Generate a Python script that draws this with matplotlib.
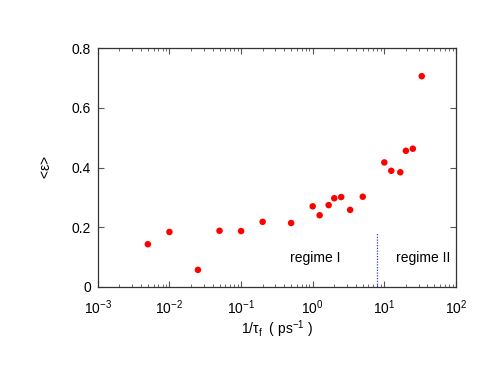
import numpy as np
import matplotlib.pyplot as plt
from matplotlib.ticker import LogLocator, NullFormatter

plt.rcParams['font.family'] = ['Liberation Sans', 'DejaVu Sans']
plt.rcParams['mathtext.fontset'] = 'custom'
plt.rcParams['mathtext.rm'] = 'Liberation Sans'
plt.rcParams['mathtext.it'] = 'Liberation Sans'

inv_tau = [0.005, 0.01, 0.025, 0.05, 0.1, 0.2, 0.5, 1.0, 1.25, 1.67, 2.0, 2.5,
           3.33, 5.0, 10.0, 12.5, 16.7, 20.0, 25.0, 33.3]
eps_mean = [0.143, 0.184, 0.057, 0.188, 0.187, 0.218, 0.214, 0.270, 0.240, 0.274,
            0.297, 0.301, 0.258, 0.302, 0.417, 0.389, 0.384, 0.456, 0.463, 0.706]
y_ticks = [0, 0.2, 0.4, 0.6, 0.8]
y_ticklabels = ['0', '0.2', '0.4', '0.6', '0.8']
boundary_x = 7.8
boundary_top = 0.18

fig = plt.figure(figsize=(4.94, 3.82), dpi=100)
ax = fig.add_axes([0.198, 0.249, 0.725, 0.625])

ax.scatter(inv_tau, eps_mean, s=22, color='#ff0000', edgecolors='none', zorder=3)
ax.plot([boundary_x, boundary_x], [0, boundary_top], color='#3333ff', lw=0.9,
        linestyle=(0, (1, 1.2)))

ax.text(1.1, 0.097, 'regime I', ha='center', va='center', fontsize=10)
ax.text(35, 0.097, 'regime II', ha='center', va='center', fontsize=10)

ax.set_xscale('log')
ax.set_xlim(1e-3, 1e2)
ax.set_ylim(0, 0.8)
ax.set_yticks(y_ticks)
ax.set_yticklabels(y_ticklabels)
ax.xaxis.set_major_locator(LogLocator(base=10, numticks=10))
ax.xaxis.set_minor_locator(LogLocator(base=10, subs=np.arange(2, 10), numticks=20))
ax.xaxis.set_minor_formatter(NullFormatter())

ax.tick_params(which='both', direction='in', top=True, right=True, labelsize=10,
               color='#555555')
ax.tick_params(which='major', length=4)
ax.tick_params(axis='y', which='major', pad=5)
ax.tick_params(axis='x', which='major', pad=8)
ax.tick_params(which='minor', length=2)
for sp in ax.spines.values():
    sp.set_color('#333333')
    sp.set_linewidth(0.9)

ax.set_xlabel(r'1/$\tau_{\rm f}$  ( ps$^{-1}$ )', fontsize=10, labelpad=1)
ax.set_ylabel(r'<$\epsilon$>', fontsize=10, labelpad=13)

plt.savefig('out.png', dpi=100)
